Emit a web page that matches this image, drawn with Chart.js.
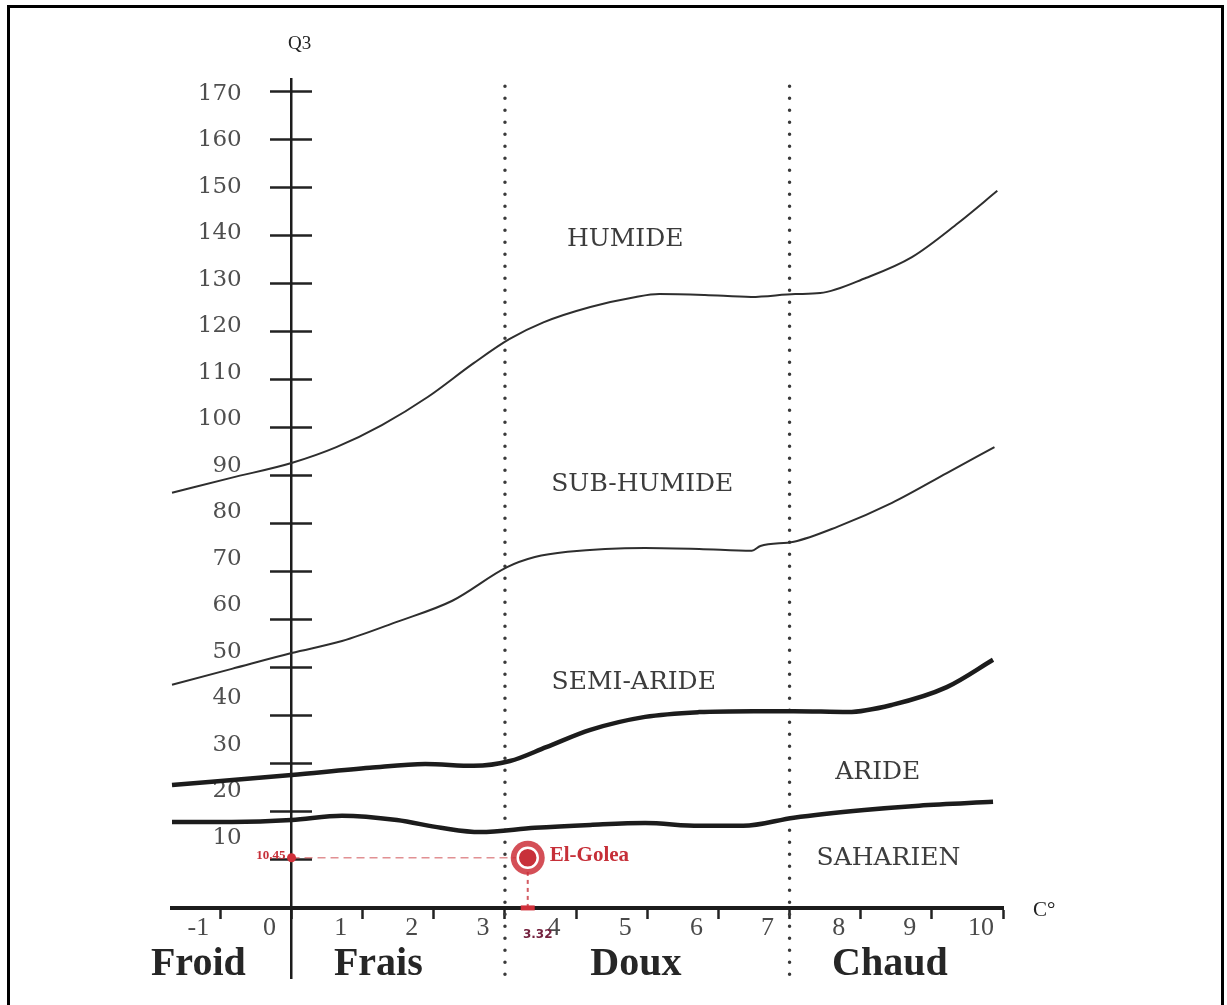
<!DOCTYPE html>
<html>
<head>
<meta charset="utf-8">
<script src="https://cdn.jsdelivr.net/npm/chart.js@4.4.1/dist/chart.umd.min.js"></script>
<style>
  html, body { margin: 0; padding: 0; background: #fff; }
  #wrap { position: relative; width: 1227px; height: 1005px; overflow: hidden; }
  #frame { position: absolute; left: 7px; top: 5px; width: 1217px; height: 1020px;
           border: 3px solid #000; box-sizing: border-box; pointer-events: none; }
</style>
</head>
<body>
<div id="wrap">
  <canvas id="chart"></canvas>
  <div id="frame"></div>
</div>
<script>
// ---- Emberger climagram : Q3 vs m (C°) ----

// axis ticks
const xTickValues = [-1, 0, 1, 2, 3, 4, 5, 6, 7, 8, 9, 10];
const yTickValues = [10, 20, 30, 40, 50, 60, 70, 80, 90, 100, 110, 120, 130, 140, 150, 160, 170];

// limit humide / sub-humide
const humideX = [-1.68, -0.85, 0, 0.63, 1.27, 1.92, 2.56, 3.06, 3.54, 4.20, 4.84, 5.17, 5.81, 6.46, 7.08, 7.43, 8.08, 8.72, 9.37, 9.92];
const humideY = [86.5, 89.6, 92.7, 96.0, 100.6, 106.5, 113.5, 118.5, 122.0, 125.2, 127.3, 127.9, 127.7, 127.3, 127.9, 128.1, 131.3, 135.6, 142.7, 149.4];

// limit sub-humide / semi-aride
const subHumideX = [-1.68, -0.84, 0, 0.71, 1.48, 2.26, 3.03, 3.42, 3.88, 4.97, 5.73, 6.47, 6.59, 7.06, 7.67, 8.44, 9.21, 9.88];
const subHumideY = [46.5, 49.8, 53.1, 55.6, 59.6, 64.0, 71.0, 73.1, 74.2, 75.0, 74.8, 74.4, 75.4, 76.3, 79.4, 84.4, 90.6, 96.0];

// limit semi-aride / aride
const semiArideX = [-1.68, 0, 1.10, 1.88, 2.56, 3.07, 3.58, 4.20, 4.97, 5.73, 6.50, 7.06, 7.82, 8.44, 9.21, 9.86];
const semiArideY = [25.6, 27.7, 29.2, 30.0, 29.6, 30.6, 33.5, 37.1, 39.8, 40.8, 41.0, 41.0, 40.8, 42.3, 46.0, 51.7];

// limit aride / saharien
const arideX = [-1.68, -0.84, 0, 0.71, 1.48, 2.10, 2.65, 3.42, 4.20, 4.97, 5.73, 6.35, 7.06, 8.05, 8.82, 9.86];
const arideY = [17.9, 17.9, 18.3, 19.2, 18.3, 16.7, 15.8, 16.7, 17.3, 17.7, 17.1, 17.1, 18.8, 20.4, 21.3, 22.1];

// thermal limits (dotted verticals)
const thermalLimits = [3, 7];

// station
const stationName = "El-Golea";
const stationM = 3.32;
const stationQ3 = 10.45;

// zone names
const zoneNames = ["HUMIDE", "SUB-HUMIDE", "SEMI-ARIDE", "ARIDE", "SAHARIEN"];
const winterNames = ["Froid", "Frais", "Doux", "Chaud"];

const X_MIN = -1.68, X_MAX = 10, Y_MIN = -14.6, Y_MAX = 172.7;

const toPts = (xs, ys) => xs.map((x, i) => ({ x, y: ys[i] }));

function curve(xs, ys, width, color) {
  return {
    data: toPts(xs, ys), showLine: true, pointRadius: 0,
    borderColor: color, borderWidth: width,
    cubicInterpolationMode: "monotone", clip: false
  };
}

const datasets = [
  // station marker (first = drawn on top)
  { data: [{ x: stationM, y: stationQ3 }], pointRadius: 10, pointBackgroundColor: "#c8303a",
    pointBorderColor: "#ffffff", pointBorderWidth: 2.5, showLine: false },
  { data: [{ x: stationM, y: stationQ3 }], pointRadius: 17, pointBackgroundColor: "rgba(204,48,58,0.85)",
    pointBorderWidth: 0, showLine: false },
  { data: [{ x: 0, y: stationQ3 }], pointRadius: 4.5, pointBackgroundColor: "#d0303a",
    pointBorderWidth: 0, showLine: false },
  { data: [{ x: stationM, y: 0 }], pointStyle: "line", pointRadius: 7, pointBorderColor: "#d0303a",
    pointBorderWidth: 5, showLine: false },
  { data: [{ x: 0, y: stationQ3 }, { x: stationM, y: stationQ3 }], showLine: true, pointRadius: 0,
    borderColor: "rgba(205,70,75,0.6)", borderWidth: 1.6, borderDash: [8, 5] },
  { data: [{ x: stationM, y: 0 }, { x: stationM, y: stationQ3 }], showLine: true, pointRadius: 0,
    borderColor: "rgba(200,50,60,0.8)", borderWidth: 2, borderDash: [4, 4] },
  curve(humideX, humideY, 2, "#2e2e2e"),
  curve(subHumideX, subHumideY, 2, "#2e2e2e"),
  curve(semiArideX, semiArideY, 4.5, "#1c1c1c"),
  curve(arideX, arideY, 4.5, "#1c1c1c"),
  ...thermalLimits.map(t => ({
    data: [{ x: t, y: Y_MIN + 0.8 }, { x: t, y: Y_MAX - 0.3 }], showLine: true, pointRadius: 0,
    borderColor: "#3a3a3a", borderWidth: 3.5, borderDash: [0, 12], borderCapStyle: "round"
  }))
];

// text annotations placed in data coordinates
const annotations = {
  id: "annotations",
  afterDraw(chart) {
    const { ctx, scales: { x, y }, chartArea } = chart;
    const px = v => x.getPixelForValue(v);
    const py = v => y.getPixelForValue(v);
    ctx.save();
    ctx.textBaseline = "middle";

    // zone names
    const zoneAt = [[4.69, 139.2], [4.93, 88.3], [4.81, 46.9], [8.24, 28.3], [8.39, 10.4]];
    ctx.fillStyle = "#3c3c3c";
    ctx.font = "25px 'DejaVu Serif'";
    ctx.textAlign = "center";
    zoneNames.forEach((n, i) => ctx.fillText(n, px(zoneAt[i][0]), py(zoneAt[i][1])));

    // winter classes
    const winterAt = [-1.31, 1.22, 4.84, 8.41];
    ctx.fillStyle = "#262626";
    ctx.font = "bold 40px 'Liberation Serif'";
    ctx.textBaseline = "alphabetic";
    winterNames.forEach((n, i) => ctx.fillText(n, px(winterAt[i]), py(-13.9)));

    // axis titles
    ctx.font = "19px 'Liberation Serif'";
    ctx.fillStyle = "#222";
    ctx.textBaseline = "middle";
    ctx.fillText("Q3", px(0) + 8, chartArea.top - 35);
    ctx.textAlign = "left";
    ctx.font = "21px 'Liberation Serif'";
    ctx.fillText("C°", x.right + 30, py(0) + 3);

    // station labels
    ctx.fillStyle = "#c62f38";
    ctx.font = "bold 21px 'Liberation Serif'";
    ctx.fillText(stationName, px(stationM) + 22, py(stationQ3) - 2);
    ctx.textAlign = "right";
    ctx.font = "bold 13px 'Liberation Serif'";
    ctx.fillText(String(stationQ3), px(0) - 6, py(stationQ3) - 2);
    ctx.textAlign = "center";
    ctx.fillStyle = "#74223f";
    ctx.font = "bold 12px 'DejaVu Sans'";
    ctx.fillText(String(stationM), px(stationM) + 10, py(0) + 27);
    ctx.restore();
  }
};

const yTicksFromList = s => { s.ticks = yTickValues.map(v => ({ value: v })); };

new Chart(document.getElementById("chart"), {
  type: "scatter",
  data: { datasets },
  options: {
    responsive: true,
    maintainAspectRatio: false,
    devicePixelRatio: 1,
    animation: false,
    layout: { padding: { left: 172, right: 224, top: 79, bottom: 27 } },
    plugins: { legend: { display: false }, tooltip: { enabled: false } },
    scales: {
      x: {
        type: "linear", min: X_MIN, max: X_MAX, position: { y: 0 },
        afterBuildTicks: s => { s.ticks = xTickValues.map(v => ({ value: v })); },
        grid: { drawOnChartArea: false, drawTicks: true, tickLength: 9, tickWidth: 2.5, tickColor: "#222" },
        border: { display: true, width: 4, color: "#1c1c1c" },
        ticks: { autoSkip: false, maxRotation: 0, padding: -4, labelOffset: -22,
                 color: "#4a4a4a", font: { family: "Liberation Serif", size: 26 } }
      },
      // main Q3 axis: line + ticks pointing left
      y: {
        type: "linear", min: Y_MIN, max: Y_MAX, position: { x: 0 },
        afterBuildTicks: yTicksFromList,
        grid: { drawOnChartArea: false, drawTicks: true, tickLength: 20, tickWidth: 2.5, tickColor: "#222" },
        border: { display: true, width: 2.5, color: "#1c1c1c" },
        ticks: { display: false, padding: 0 }
      },
      // same axis, ticks pointing right (crossing ticks)
      y2: {
        type: "linear", min: Y_MIN, max: Y_MAX, position: { x: 0 },
        afterBuildTicks: yTicksFromList,
        grid: { drawOnChartArea: false, drawTicks: true, tickLength: -20, tickWidth: 2.5, tickColor: "#222" },
        border: { display: false },
        ticks: { display: false, padding: 0 }
      },
      // tick labels, set slightly off the marks as on the scanned figure
      yLabels: {
        axis: "y", type: "linear", min: -20.1, max: 173.2, position: { x: -0.7 },
        afterBuildTicks: yTicksFromList,
        grid: { display: false, drawTicks: false },
        border: { display: false },
        ticks: { autoSkip: false, padding: 0, color: "#4f4f4f",
                 font: { family: "DejaVu Serif", size: 23 } }
      }
    }
  },
  plugins: [annotations]
});
</script>
</body>
</html>
